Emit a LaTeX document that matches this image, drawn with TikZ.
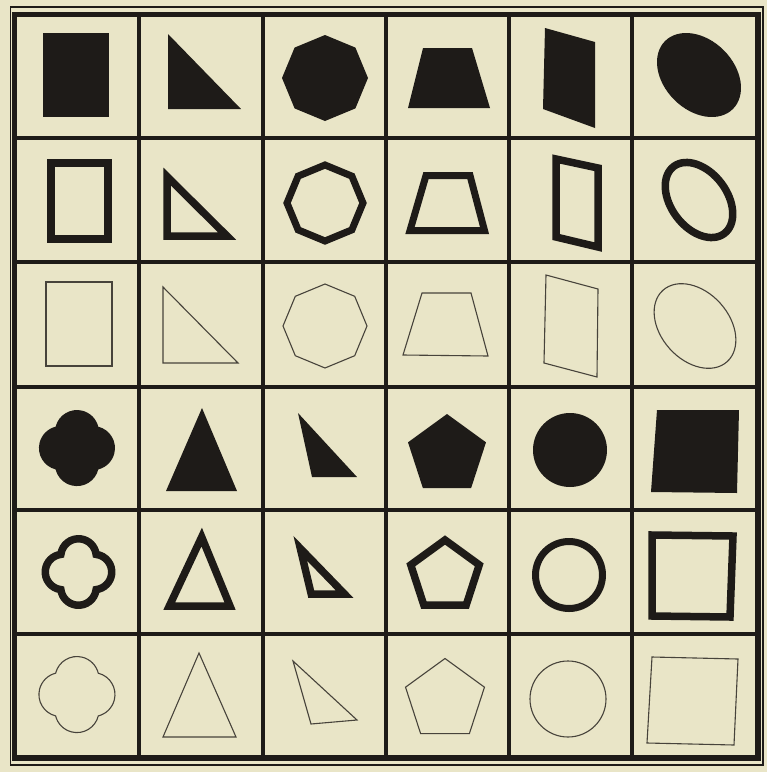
\documentclass[tikz,border=0pt]{standalone}
\usepackage{xcolor}
\usepackage{tikz}
\definecolor{paper}{RGB}{233,229,199}
\definecolor{ink}{RGB}{30,27,24}

\begin{document}
\begin{tikzpicture}[x=1pt, y=-1pt,
    solid shape/.style={fill=ink},
    thick shape/.style={draw=ink, line width=7.5pt},
    thin shape/.style={draw=ink!80!paper, line width=1.1pt},
    grid line/.style={draw=ink, line width=4.5pt}]
  \fill[paper] (0,0) rectangle (767,772);
  \useasboundingbox (0,0) rectangle (767,772);
  % frame and cell lines
  \foreach \x in {139,263,386,509,632} \draw[grid line] (\x,14.5) -- (\x,758);
  \foreach \y in {138,262,387,510,634} \draw[grid line] (14.5,\y) -- (758,\y);
  \draw[ink, line width=5.5pt] (14.5,14.5) rectangle (758,758);
  \draw[ink, line width=1.8pt] (10.5,7) rectangle (763,765);

  % rectangles
  \fill[solid shape] (43,33) rectangle (109,117);
  \draw[thick shape] (51,163) rectangle (108,239);
  \draw[thin shape] (46,282) rectangle (112,366);
  % right triangles
  \fill[solid shape] (168,34) -- (168,109) -- (241,109) -- cycle;
  \draw[thick shape] (167,176.5) -- (167,236) -- (227,236) -- cycle;
  \draw[thin shape] (163,287) -- (163,363) -- (238,363) -- cycle;
  % octagons
  \fill[solid shape, shift={(325,78)}] (-90:43) \foreach \a in {-45,0,...,225} {-- (\a:43)} -- cycle;
  \draw[thick shape, line width=7pt, shift={(325,203)}] (-90:38) \foreach \a in {-45,0,...,225} {-- (\a:38)} -- cycle;
  \draw[thin shape, shift={(325,326)}] (-90:42) \foreach \a in {-45,0,...,225} {-- (\a:42)} -- cycle;
  % trapezoids
  \fill[solid shape] (423,48) -- (472,48) -- (490,108) -- (408,108) -- cycle;
  \draw[thick shape, line width=7pt] (426,175.5) -- (470,175.5) -- (484.5,230.5) -- (410,230.5) -- cycle;
  \draw[thin shape] (422,293) -- (471,293) -- (488,356) -- (403,355) -- cycle;
  % slanted quadrilaterals
  \fill[solid shape] (545,28) -- (595,42) -- (595,128) -- (543,109) -- cycle;
  \draw[thick shape] (556,159) -- (598,168) -- (598,247) -- (556,237) -- cycle;
  \draw[thin shape] (546,275) -- (598,289) -- (597,377) -- (544,363) -- cycle;
  % ellipses
  \fill[solid shape, rotate around={-45:(699,75)}] (699,75) ellipse [x radius=48, y radius=35];
  \draw[thick shape, rotate around={-53:(699,200)}] (699,200) ellipse [x radius=42, y radius=28];
  \draw[thin shape, rotate around={-48:(695,326)}] (695,326) ellipse [x radius=48, y radius=34];

  % quatrefoils
  \fill[solid shape, shift={(77,448)}] (21.3,-21.3) arc[start angle=-76, end angle=76, radius=22]
    arc[start angle=14, end angle=166, radius=22] arc[start angle=104, end angle=256, radius=22]
    arc[start angle=194, end angle=346, radius=22] -- cycle;
  \draw[thick shape, shift={(78.5,572)}] (17.62,-17.62) arc[start angle=-83.1, end angle=83.1, radius=17.75]
    arc[start angle=6.9, end angle=173.1, radius=17.75] arc[start angle=96.9, end angle=263.1, radius=17.75]
    arc[start angle=186.9, end angle=353.1, radius=17.75] -- cycle;
  \draw[thin shape, shift={(77,694.5)}] (21.3,-21.3) arc[start angle=-76, end angle=76, radius=22]
    arc[start angle=14, end angle=166, radius=22] arc[start angle=104, end angle=256, radius=22]
    arc[start angle=194, end angle=346, radius=22] -- cycle;
  % isosceles triangles
  \fill[solid shape] (202,408) -- (237,491) -- (166,491) -- cycle;
  \draw[thick shape] (201.7,537) -- (230,606) -- (169.3,606) -- cycle;
  \draw[thin shape] (199,653) -- (236,737) -- (163,737) -- cycle;
  % leaning triangles
  \fill[solid shape] (298,413) -- (312,477) -- (357,477) -- cycle;
  \draw[thick shape] (300.3,548.4) -- (311.2,594) -- (344.5,594) -- cycle;
  \draw[thin shape] (293,661) -- (311,724) -- (357,720) -- cycle;
  % pentagons
  \fill[solid shape, shift={(447,455)}] (-90:41) \foreach \a in {-18,54,126,198} {-- (\a:41)} -- cycle;
  \draw[thick shape, shift={(445,576)}] (-90:36) \foreach \a in {-18,54,126,198} {-- (\a:36)} -- cycle;
  \draw[thin shape, shift={(445,700)}] (-90:41.5) \foreach \a in {-18,54,126,198} {-- (\a:41.5)} -- cycle;
  % circles
  \fill[solid shape] (570,450) circle [radius=37];
  \draw[thick shape, line width=7pt] (569,575) circle [radius=33.5];
  \draw[thin shape] (568,699) circle [radius=38];
  % squares
  \fill[solid shape] (657,410) -- (739,410) -- (737,493) -- (651,492) -- cycle;
  \draw[thick shape] (652,535) -- (733,536) -- (730,617) -- (652,616) -- cycle;
  \draw[thin shape] (652,657) -- (738,659) -- (734,745) -- (647,743) -- cycle;
\end{tikzpicture}
\end{document}
